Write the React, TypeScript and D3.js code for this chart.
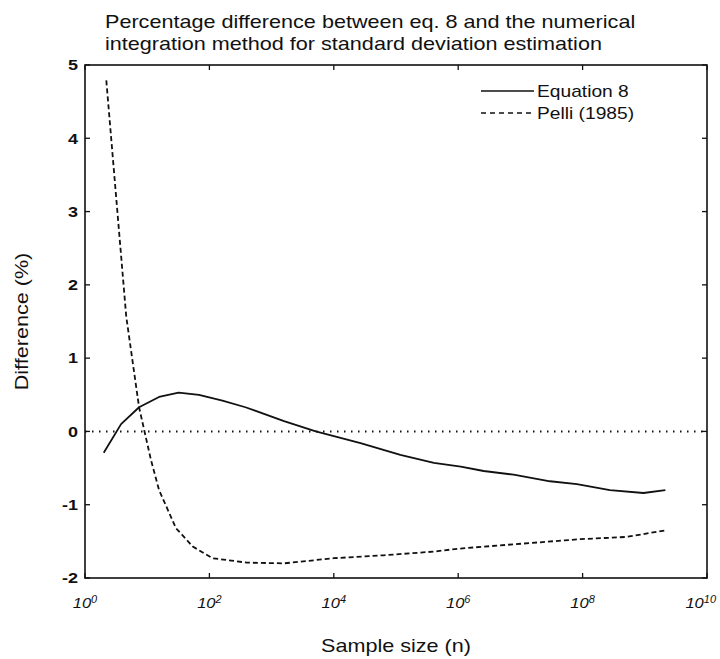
import React from 'react';
import * as d3 from 'd3';

// Equation 8 (solid line): sample size and % difference
const eq8N = [2, 3.8, 7.4, 15.5, 32, 68, 162, 380, 1585, 5130, 26900, 117500, 407000, 1.1e6, 2.57e6, 7.76e6, 3.0e7, 8.1e7, 2.75e8, 9.5e8, 2.14e9];
const eq8Diff = [-0.29, 0.1, 0.33, 0.47, 0.53, 0.5, 0.42, 0.33, 0.14, 0.0, -0.16, -0.32, -0.43, -0.48, -0.54, -0.59, -0.68, -0.72, -0.8, -0.84, -0.8];

// Pelli (1985) (dashed line)
const pelliN = [2.2, 4.6, 7.4, 11.5, 15.5, 29, 54, 112, 400, 1585, 1e4, 6.3e4, 4e5, 1e6, 7.9e6, 9.1e7, 5e8, 2.14e9];
const pelliDiff = [4.79, 1.57, 0.33, -0.39, -0.8, -1.32, -1.57, -1.73, -1.79, -1.8, -1.73, -1.69, -1.64, -1.6, -1.54, -1.47, -1.44, -1.35];

const xTickExps = [0, 2, 4, 6, 8, 10];
const yTicks = [-2, -1, 0, 1, 2, 3, 4, 5];

const titleLines = [
  'Percentage difference between eq. 8 and the numerical',
  'integration method for standard deviation estimation',
];

const font = '"Liberation Sans", Arial, Helvetica, sans-serif';
const STRETCH = 1.2; // the scanned lettering is wider than Liberation Sans

// text placed at (x, y), stretched horizontally (in its own direction)
function T({ x, y, rotate = 0, sx = STRETCH, children, ...rest }: any) {
  return (
    <text transform={`translate(${x},${y}) rotate(${rotate}) scale(${sx},1)`} fill="#111" {...rest}>
      {children}
    </text>
  );
}

export default function App() {
  const width = 720;
  const height = 659;
  const margin = { top: 65, right: 13, bottom: 81, left: 85 };
  const x0 = margin.left;
  const x1 = width - margin.right;
  const y0 = margin.top;
  const y1 = height - margin.bottom;

  const x = d3.scaleLog().domain([1, 1e10]).range([x0, x1]);
  const y = d3.scaleLinear().domain([-2, 5]).range([y1, y0]);

  const line = d3.line<[number, number]>()
    .x(d => x(d[0]))
    .y(d => y(d[1]));

  const eq8 = eq8N.map((n, i) => [n, eq8Diff[i]] as [number, number]);
  const pelli = pelliN.map((n, i) => [n, pelliDiff[i]] as [number, number]);

  const tick = 5;

  return (
    <svg width={width} height={height} style={{ position: 'absolute', left: 0, top: 0, background: '#fff' }}
      fontFamily={font}>
      {/* title */}
      {titleLines.map((t, i) => (
        <T key={i} x={105} y={28 + i * 22} fontSize={18}>{t}</T>
      ))}

      {/* zero reference */}
      <line x1={x0} x2={x1} y1={y(0)} y2={y(0)} stroke="#111" strokeWidth={2}
        strokeDasharray="1.5,5.5" />

      {/* data */}
      <path d={line(eq8) || ''} fill="none" stroke="#111" strokeWidth={1.8} strokeLinejoin="round" />
      <path d={line(pelli) || ''} fill="none" stroke="#111" strokeWidth={1.8} strokeDasharray="5,3" />

      {/* frame */}
      <rect x={x0} y={y0} width={x1 - x0} height={y1 - y0} fill="none" stroke="#111" strokeWidth={1.6} />

      {/* x ticks */}
      {xTickExps.map(e => {
        const px = x(Math.pow(10, e));
        const last = e === xTickExps[xTickExps.length - 1];
        return (
          <g key={e}>
            <line x1={px} x2={px} y1={y1} y2={y1 - tick} stroke="#111" strokeWidth={1.3} />
            <line x1={px} x2={px} y1={y0} y2={y0 + tick} stroke="#111" strokeWidth={1.3} />
            <T x={last ? width - 4 : px} y={608} sx={1.1} textAnchor={last ? 'end' : 'middle'}
              fontSize={15} fontStyle="italic">
              10<tspan dy={-5} fontSize={10}>{e}</tspan>
            </T>
          </g>
        );
      })}

      {/* y ticks */}
      {yTicks.map(v => (
        <g key={v}>
          <line x1={x0} x2={x0 + tick} y1={y(v)} y2={y(v)} stroke="#111" strokeWidth={1.3} />
          <line x1={x1} x2={x1 - tick} y1={y(v)} y2={y(v)} stroke="#111" strokeWidth={1.3} />
          <T x={x0 - 7} y={y(v)} dy="0.35em" textAnchor="end" fontSize={15} fontWeight="bold">
            {v}
          </T>
        </g>
      ))}

      {/* axis labels */}
      <T x={(x0 + x1) / 2} y={652} textAnchor="middle" fontSize={18}>Sample size (n)</T>
      <T x={28} y={(y0 + y1) / 2} rotate={-90} textAnchor="middle" fontSize={18}>Difference (%)</T>

      {/* legend */}
      <line x1={481} x2={534} y1={91} y2={91} stroke="#111" strokeWidth={1.6} />
      <T x={537} y={91} dy="0.35em" fontSize={16}>Equation 8</T>
      <line x1={481} x2={534} y1={113} y2={113} stroke="#111" strokeWidth={1.6} strokeDasharray="5,4" />
      <T x={537} y={113} dy="0.35em" fontSize={16}>Pelli (1985)</T>
    </svg>
  );
}
